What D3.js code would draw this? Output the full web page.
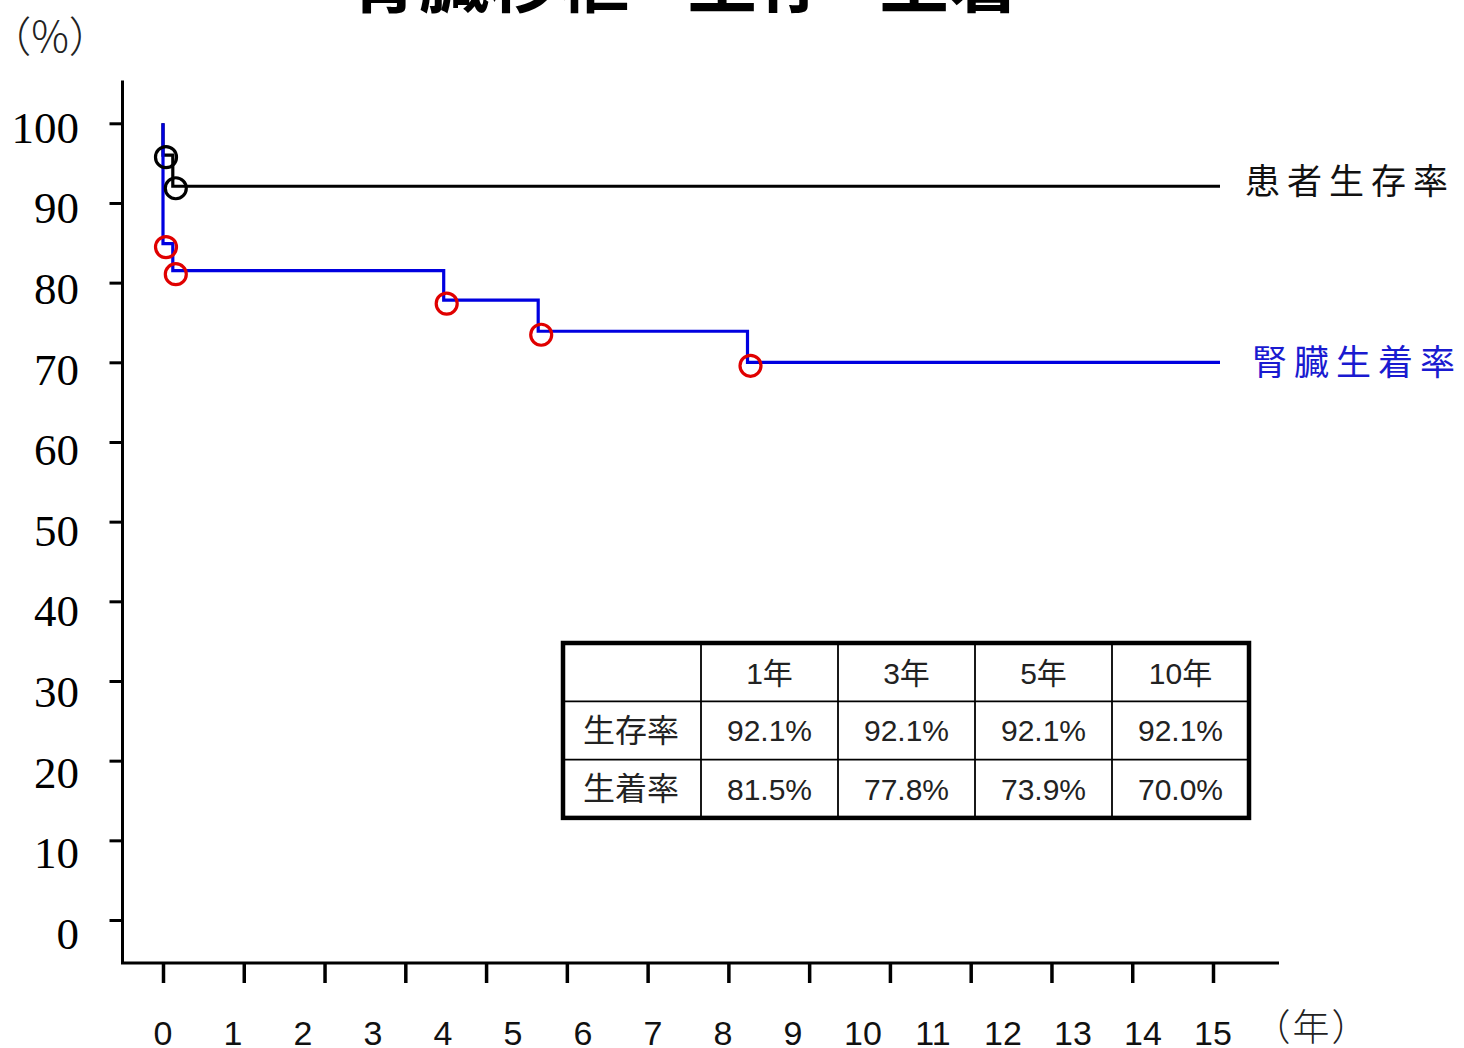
<!DOCTYPE html>
<html>
<head>
<meta charset="utf-8">
<script src="https://cdn.jsdelivr.net/npm/d3@7"></script>
<style>
  html, body { margin: 0; padding: 0; background: #fff; }
  svg { display: block; }
</style>
</head>
<body>
<div id="chart"></div>
<script>
// ---------------- data ----------------
const titleParts = ["腎臓移植", "生存", "・", "生着"];
const yUnitLabel = "（%）";
const xUnitLabel = "（年）";
const xTickLabels = d3.range(0, 16);           // 0 .. 15 (年)
const yTickValues = d3.range(0, 101, 10);      // 0 .. 100 (%)
const xTickMarkCount = 14;                     // tick marks drawn on the x axis

// Kaplan–Meier steps: time (years) and rate (%)
const survivalTimes  = [0, 0, 0.14, 15.1];
const survivalValues = [100, 96.0, 92.1, 92.1];
const survivalMarkIdx = [1, 2];

const graftTimes  = [0, 0, 0.14, 4.01, 5.36, 8.35, 15.1];
const graftValues = [100, 84.9, 81.5, 77.8, 73.9, 70.0, 70.0];
const graftMarkIdx = [1, 2, 3, 4, 5];

const seriesNames = ["患者生存率", "腎臓生着率"];

// summary table
const tableYears = ["1年", "3年", "5年", "10年"];
const tableRowNames = ["生存率", "生着率"];
const tableSurvival = [92.1, 92.1, 92.1, 92.1];
const tableGraft = [81.5, 77.8, 73.9, 70.0];

// ---------------- layout ----------------
const W = 1464, H = 1048;
const svg = d3.select("#chart").append("svg").attr("width", W).attr("height", H);

const axisX0 = 122.5, axisY0 = 963;
const x = d3.scaleLinear().domain([0, 15]).range([163, 1213]);
const y = d3.scaleLinear().domain([0, 100]).range([920, 123.3]);
const yLab = d3.scaleLinear().domain([0, 100]).range([933, 127]);

const sans = "'Liberation Sans', 'Noto Sans CJK JP', sans-serif";
const serif = "'Liberation Serif', 'DejaVu Serif', serif";
const cjk = "'Noto Sans CJK JP', sans-serif";

// title (clipped at the top of the picture)
const titleG = svg.append("g").attr("font-family", cjk).attr("font-weight", 700).attr("fill", "#000");
titleG.append("text").attr("x", 349).attr("y", 7).attr("font-size", 70).text(titleParts[0]);
titleG.append("text").attr("x", 687).attr("y", 7).attr("font-size", 70).text(titleParts[1]);
titleG.append("text").attr("x", 856).attr("y", 7).attr("font-size", 36).attr("text-anchor", "middle").text(titleParts[2]);
titleG.append("text").attr("x", 879).attr("y", 7).attr("font-size", 70).text(titleParts[3]);

// unit labels
svg.append("text").attr("x", 50).attr("y", 52).attr("text-anchor", "middle")
  .attr("font-family", cjk).attr("font-weight", 300)
  .attr("font-size", 42).attr("fill", "#222").text(yUnitLabel);
svg.append("text").attr("x", 1312).attr("y", 1041).attr("text-anchor", "middle")
  .attr("font-family", cjk).attr("font-weight", 300).attr("font-size", 37)
  .attr("letter-spacing", 2).attr("fill", "#222").text(xUnitLabel);

// axes lines
const axisG = svg.append("g").attr("stroke", "#000").attr("fill", "none");
axisG.append("path")
  .attr("d", `M${axisX0},80.5 V${axisY0} H1279`)
  .attr("stroke-width", 3);

// y ticks via d3 axis
const yAxis = d3.axisLeft(y).tickValues(yTickValues).tickSize(13).tickFormat("");
const gy = svg.append("g").attr("transform", `translate(${axisX0},0)`).call(yAxis);
gy.select(".domain").remove();
gy.selectAll(".tick line").attr("stroke", "#000").attr("stroke-width", 3);

svg.append("g").selectAll("text").data(yTickValues).join("text")
  .attr("x", 79).attr("y", d => yLab(d)).attr("dy", "0.35em")
  .attr("text-anchor", "end").attr("font-family", serif)
  .attr("font-size", 45).attr("fill", "#000").text(d => d);

// x ticks via d3 axis
const tickVals = d3.range(xTickMarkCount).map(i => i * 15 / (xTickMarkCount - 1));
const xAxis = d3.axisBottom(x).tickValues(tickVals).tickSize(20).tickFormat("");
const gx = svg.append("g").attr("transform", `translate(0,${axisY0})`).call(xAxis);
gx.select(".domain").remove();
gx.selectAll(".tick line").attr("stroke", "#000").attr("stroke-width", 3.5);

svg.append("g").selectAll("text").data(xTickLabels).join("text")
  .attr("x", d => x(d)).attr("y", 1033).attr("dy", "0.36em")
  .attr("text-anchor", "middle").attr("font-family", sans)
  .attr("font-size", 34).attr("fill", "#111").text(d => d);

// step lines
const line = d3.line().x(d => x(d[0])).y(d => y(d[1])).curve(d3.curveStepAfter);
const survPts = survivalTimes.map((t, i) => [t, survivalValues[i]]);
const graftPts = graftTimes.map((t, i) => [t, graftValues[i]]);

svg.append("path").datum(survPts).attr("d", line)
  .attr("fill", "none").attr("stroke", "#000").attr("stroke-width", 3.2);
svg.append("path").datum(graftPts).attr("d", line)
  .attr("fill", "none").attr("stroke", "#0000e0").attr("stroke-width", 3.2);

// censor/event circles
svg.append("g").selectAll("circle").data(survivalMarkIdx.map(i => survPts[i])).join("circle")
  .attr("cx", d => x(d[0]) + 3).attr("cy", d => y(d[1]) + 2).attr("r", 10.5)
  .attr("fill", "none").attr("stroke", "#000").attr("stroke-width", 3.2);
svg.append("g").selectAll("circle").data(graftMarkIdx.map(i => graftPts[i])).join("circle")
  .attr("cx", d => x(d[0]) + 3).attr("cy", d => y(d[1]) + 3.5).attr("r", 10.5)
  .attr("fill", "none").attr("stroke", "#e00000").attr("stroke-width", 3.2);

// series labels
svg.append("text").attr("x", 1245).attr("y", y(survivalValues[survivalValues.length - 1]) - 4)
  .attr("dy", "0.35em").attr("font-family", cjk).attr("font-size", 35)
  .attr("letter-spacing", 7).attr("fill", "#111").text(seriesNames[0]);
svg.append("text").attr("x", 1252).attr("y", y(graftValues[graftValues.length - 1]))
  .attr("dy", "0.35em").attr("font-family", cjk).attr("font-size", 35)
  .attr("letter-spacing", 7).attr("fill", "#1a1ad0").text(seriesNames[1]);

// summary table
const tX = 563, tY = 643, firstColW = 138, colW = 137, rowH = 58.3;
const nCols = tableYears.length + 1, nRows = 3;
const tW = firstColW + colW * tableYears.length, tH = rowH * nRows;
const tg = svg.append("g");
tg.append("rect").attr("x", tX).attr("y", tY).attr("width", tW).attr("height", tH)
  .attr("fill", "#fff");
const colEdges = d3.range(1, nCols).map(i => tX + firstColW + colW * (i - 1));
tg.selectAll("line.v").data(colEdges).join("line").attr("class", "v")
  .attr("x1", d => d).attr("x2", d => d).attr("y1", tY).attr("y2", tY + tH)
  .attr("stroke", "#000").attr("stroke-width", 1.8);
tg.selectAll("line.h").data([1, 2]).join("line").attr("class", "h")
  .attr("x1", tX).attr("x2", tX + tW).attr("y1", d => tY + rowH * d).attr("y2", d => tY + rowH * d)
  .attr("stroke", "#000").attr("stroke-width", 1.8);
tg.append("rect").attr("x", tX).attr("y", tY).attr("width", tW).attr("height", tH)
  .attr("fill", "none").attr("stroke", "#000").attr("stroke-width", 4.5);

const colCenter = i => tX + firstColW + colW * i + colW / 2;
const rowCenter = r => tY + rowH * r + rowH / 2;
const tText = (sel) => sel.attr("text-anchor", "middle").attr("dy", "0.36em")
  .attr("font-family", sans).attr("font-size", 30).attr("fill", "#222");

tg.selectAll("text.hd").data(tableYears).join("text").attr("class", "hd")
  .attr("x", (d, i) => colCenter(i)).attr("y", rowCenter(0) + 1).call(tText).text(d => d);
tg.selectAll("text.rn").data(tableRowNames).join("text").attr("class", "rn")
  .attr("x", tX + firstColW / 2 - 1).attr("y", (d, i) => rowCenter(i + 1)).call(tText)
  .attr("font-family", cjk).attr("font-size", 32).text(d => d);
tg.selectAll("text.sv").data(tableSurvival).join("text").attr("class", "sv")
  .attr("x", (d, i) => colCenter(i)).attr("y", rowCenter(1)).call(tText).text(d => d.toFixed(1) + "%");
tg.selectAll("text.gv").data(tableGraft).join("text").attr("class", "gv")
  .attr("x", (d, i) => colCenter(i)).attr("y", rowCenter(2)).call(tText).text(d => d.toFixed(1) + "%");
</script>
</body>
</html>
